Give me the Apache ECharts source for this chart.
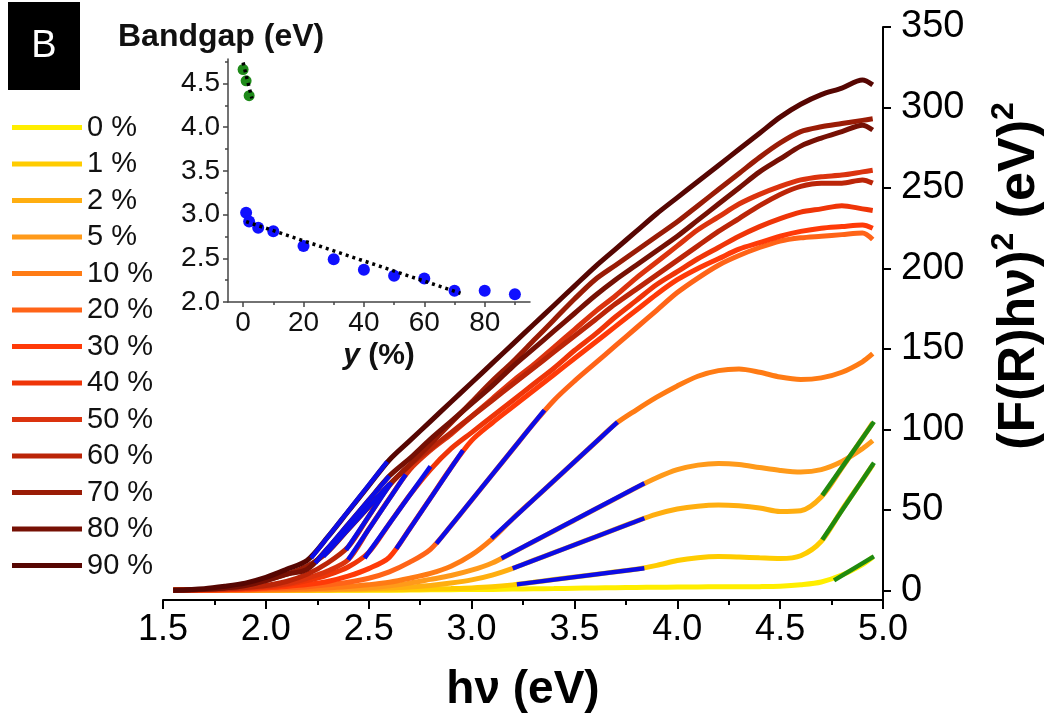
<!DOCTYPE html>
<html>
<head>
<meta charset="utf-8">
<script src="https://cdn.jsdelivr.net/npm/echarts@6/dist/echarts.min.js"></script>
<style>
  html, body { margin: 0; padding: 0; background: #fff; }
  #main { width: 1044px; height: 720px; }
</style>
</head>
<body>
<div id="main"></div>
<script>
// photon energy grid (eV)
const hv = [1.55, 1.7, 1.8, 1.9, 2.0, 2.1, 2.2, 2.3, 2.4, 2.5, 2.6, 2.7, 2.8, 2.9, 3.0, 3.1, 3.2, 3.3, 3.4, 3.5,
            3.6, 3.7, 3.8, 3.9, 4.0, 4.1, 4.2, 4.3, 4.4, 4.5, 4.6, 4.7, 4.8, 4.9, 4.95];

const names = ['0 %', '1 %', '2 %', '5 %', '10 %', '20 %', '30 %', '40 %', '50 %', '60 %', '70 %', '80 %', '90 %'];
const colors = ['#ffee00', '#ffcc00', '#ffae10', '#ff9a1a', '#ff7b14', '#ff6418', '#ff3a08',
                '#ef3508', '#db330e', '#bb2508', '#9a1c06', '#761004', '#560602'];

// (F(R)hv)^2
const y0  = [0,0,0,0,0,0,0,0,0,0,0,0.2,0.3,0.4,0.5,0.6,0.8,1,1.1,1.3,1.5,1.6,1.8,1.9,2,2.1,2.2,2.2,2.3,2.6,3.5,5.2,9.5,16,20.5];
const y1  = [0,0,0,0,0,0,0,0.1,0.2,0.3,0.4,0.6,0.8,1.1,1.5,2.2,3.4,5,6.7,8.3,9.9,11.5,13.1,15.5,18.5,20.3,21,20.7,20.2,19.8,21.5,30.5,50,68.5,78];
const y2  = [0,0,0,0,0,0.1,0.2,0.4,0.6,0.9,1.4,2,3,4.5,6.5,9.5,13.7,18.6,23.4,28.3,33.1,38,42.9,47.3,50.5,52.3,53,52.5,51.2,49,49.5,58,76,94.5,104];
const y5  = [0,0,0,0,0.1,0.2,0.4,0.6,1,1.6,2.8,4.5,6.8,9.2,12.5,17,23.5,30.2,36.9,43.6,50.4,57,63.8,70,75,77.8,78.8,78.2,76.3,74.5,73.5,75,80,88,93];
const y10 = [0,0,0,0.1,0.3,0.5,0.9,1.5,2.4,3.5,5,7.5,10.5,15,22,32,44.5,56.3,68,79.8,91.6,103.4,112,120,127,133,136.5,137.5,135.5,132.5,131,132,135.5,142,147];
const y20 = [0,0.1,0.2,0.4,0.8,1.4,2.3,3.5,5,7.5,11.5,17.5,25.5,40.2,56,71.8,87.6,103.4,118,130,141,152,163,174,185,194,202,208,213,217,219,220,221,222,218];
const y30 = [0,0.2,0.4,0.8,1.5,2.4,3.6,5.5,8.8,13.5,20.5,38.4,57.3,76.2,93,104,114,124,134,144,154,164,174,184,193,200,206,212,216,220,223,225,226,227,225];
const y40 = [0,0.3,0.6,1.1,2,3.5,6,9.5,14.5,23.6,41.4,59.2,75,88,98,108,118,128,138,149,159,170,180,190,198,206,213,220,226,231,235,237,239,237,236];
const y50 = [0,0.4,0.8,1.4,2.5,4,7.5,12,19,38,57,75,87,97,108,119,130,140,151,162,173,183,194,204,214,224,232,240,246,251,255,257,258,260,261];
const y60 = [0,0.5,1,1.8,3,5.5,10,17,27,46,65,78,88,98,108,118,128,138,148,158,168,178,187,196,205,214,223,231,239,246,251,253,253,255,253];
const y70 = [0,0.6,1.5,3,6,10,15,23.8,37.8,51.8,65.8,78,91,104,117,130,142,155,168,181,193,202,211,220,229,239,249,259,269,278,285,288,290,292,293];
const y80 = [0,0.6,1.5,3,6,10,13,26,41,56,71,82,94,105,116,127,139,150,161,172,183,193,202,211,220,230,240,250,260,268,276,281,285,289,286];
const y90 = [0,1,2.5,4.5,8,13,18.5,33,49,65,81,93,105,117,129,141,153,165,177,189,201,212,223,234,244,254,264,274,284,294,302,308,312,317,314];
const curves = [y0, y1, y2, y5, y10, y20, y30, y40, y50, y60, y70, y80, y90];

// linear fits [x1, y1, x2, y2]
const blueFits = [null, [3.22,3.7,3.84,13.7], [3.20,13.7,3.84,44.8], [3.146,19.9,3.84,66.5], [3.097,32.3,3.709,104.5],
  [2.829,29,3.354,112], [2.634,25.9,2.958,87], [2.48,20,2.80,77], [2.40,19,2.68,72], [2.39,25,2.61,67],
  [2.28,21,2.60,66], [2.24,17,2.60,71], [2.22,20,2.59,80]];
const greenFits = [[4.762,6.2,4.956,21.1], [4.705,31.5,4.956,79.2], [4.705,59,4.956,104.7]];

// inset: bandgap vs y
const blueY = [1, 2, 5, 10, 20, 30, 40, 50, 60, 70, 80, 90];
const blueGap = [3.02, 2.92, 2.85, 2.81, 2.64, 2.49, 2.37, 2.30, 2.27, 2.13, 2.13, 2.09];
const greenY = [0, 1, 2];
const greenGap = [4.66, 4.53, 4.36];
const greenTrend = [0, 4.74, 2.9, 4.33];
const blueTrend = [1, 2.92, 72, 2.10];

const mainYTicks = [0, 50, 100, 150, 200, 250, 300, 350];
const insetXTicks = [0, 20, 40, 60, 80];
const insetXMinor = [10, 30, 50, 70, 90];
const insetYTicks = [2.0, 2.5, 3.0, 3.5, 4.0, 4.5];
const insetYMinor = [2.25, 2.75, 3.25, 3.75, 4.25, 4.75];

const FONT = 'Liberation Sans, Arial, sans-serif';
const chart = echarts.init(document.getElementById('main'));

let series = [];
curves.forEach((ys, i) => {
  series.push({
    name: names[i],
    type: 'line',
    xAxisIndex: 0, yAxisIndex: 0,
    data: hv.map((x, k) => [x, ys[k]]),
    symbol: 'none',
    smooth: 0.3,
    color: colors[i],
    lineStyle: { width: 5, color: colors[i] },
    z: 2
  });
});
blueFits.forEach((f, i) => {
  if (!f) return;
  series.push({
    name: 'fit' + i, type: 'line', xAxisIndex: 0, yAxisIndex: 0,
    data: [[f[0], f[1]], [f[2], f[3]]], symbol: 'none',
    lineStyle: { width: 4.5, color: '#0c0ce6' }, z: 3
  });
});
greenFits.forEach((f, i) => {
  series.push({
    name: 'gfit' + i, type: 'line', xAxisIndex: 0, yAxisIndex: 0,
    data: [[f[0], f[1]], [f[2], f[3]]], symbol: 'none',
    lineStyle: { width: 4.5, color: '#1f8a0f' }, z: 3
  });
});
series.push({
  name: 'gaps', type: 'scatter', xAxisIndex: 1, yAxisIndex: 1,
  data: blueY.map((x, i) => [x, blueGap[i]]), symbolSize: 12,
  itemStyle: { color: '#1010ff', opacity: 1 }, z: 4
});
series.push({
  name: 'gaps2', type: 'scatter', xAxisIndex: 1, yAxisIndex: 1,
  data: greenY.map((x, i) => [x, greenGap[i]]), symbolSize: 11,
  itemStyle: { color: '#1f8a1a', opacity: 1 }, z: 4
});
[greenTrend, blueTrend].forEach((t, i) => {
  series.push({
    name: 'trend' + i, type: 'line', xAxisIndex: 1, yAxisIndex: 1,
    data: [[t[0], t[1]], [t[2], t[3]]], symbol: 'none',
    lineStyle: { width: 3.5, color: '#000', type: [3, 4] }, z: 5
  });
});

const options = {
  animation: false,
  backgroundColor: '#fff',
  textStyle: { fontFamily: FONT },
  legend: {
    data: names,
    orient: 'vertical',
    left: 12, top: 113,
    padding: 0,
    itemWidth: 70, itemHeight: 5,
    itemGap: 7.5,
    icon: 'rect',
    textStyle: { fontSize: 29, lineHeight: 29, color: '#111', fontFamily: FONT }
  },
  grid: [
    { left: 163, right: 161, top: 27, bottom: 120 },
    { left: 228, top: 59, width: 302, height: 243 }
  ],
  xAxis: [
    {
      gridIndex: 0, type: 'value', min: 1.5, max: 5.0, interval: 0.5,
      axisLine: { show: true, onZero: false, lineStyle: { color: '#000', width: 2 } },
      axisTick: { show: true, length: 9, lineStyle: { color: '#000', width: 2 } },
      minorTick: { show: true, splitNumber: 2, length: 5, lineStyle: { color: '#000', width: 2 } },
      axisLabel: { fontSize: 36, color: '#000', margin: 12, fontFamily: FONT, formatter: v => v.toFixed(1) },
      splitLine: { show: false }
    },
    {
      gridIndex: 1, type: 'value', position: 'bottom', min: -5, max: 95,
      axisLine: { show: true, onZero: false, lineStyle: { color: '#444', width: 1.5 } },
      axisTick: { show: true, customValues: insetXTicks, length: 5, lineStyle: { color: '#444', width: 1.5 } },
      axisLabel: { customValues: insetXTicks, fontSize: 28, color: '#111', margin: 7, fontFamily: FONT },
      splitLine: { show: false }
    },
    {
      gridIndex: 1, type: 'value', position: 'bottom', min: -5, max: 95,
      axisLine: { show: false, onZero: false },
      axisTick: { show: true, customValues: insetXMinor, length: 3, lineStyle: { color: '#444', width: 1.5 } },
      axisLabel: { show: false },
      splitLine: { show: false }
    }
  ],
  yAxis: [
    {
      gridIndex: 0, type: 'value', position: 'right', min: -6, max: 350,
      axisLine: { show: true, onZero: false, lineStyle: { color: '#000', width: 2 } },
      axisTick: { show: true, customValues: mainYTicks, length: 8, lineStyle: { color: '#000', width: 2 } },
      axisLabel: { customValues: mainYTicks, fontSize: 38, color: '#000', margin: 18, fontFamily: FONT },
      splitLine: { show: false }
    },
    {
      gridIndex: 1, type: 'value', position: 'left', min: 2.0, max: 4.78,
      axisLine: { show: true, onZero: false, lineStyle: { color: '#444', width: 1.5 } },
      axisTick: { show: true, customValues: insetYTicks, length: 5, lineStyle: { color: '#444', width: 1.5 } },
      axisLabel: { customValues: insetYTicks, fontSize: 28, color: '#111', margin: 8, fontFamily: FONT, formatter: v => v.toFixed(1) },
      splitLine: { show: false }
    },
    {
      gridIndex: 1, type: 'value', position: 'left', min: 2.0, max: 4.78,
      axisLine: { show: false, onZero: false },
      axisTick: { show: true, customValues: insetYMinor, length: 3, lineStyle: { color: '#444', width: 1.5 } },
      axisLabel: { show: false },
      splitLine: { show: false }
    }
  ],
  graphic: [
    { type: 'rect', left: 8, top: 2, shape: { width: 72, height: 88 }, style: { fill: '#000' } },
    { type: 'text', x: 44, y: 47, style: { text: 'B', fill: '#fff', font: '38px ' + FONT, textAlign: 'center', textVerticalAlign: 'middle' } },
    { type: 'text', x: 118, y: 37, style: { text: 'Bandgap (eV)', fill: '#111', font: 'bold 32px ' + FONT, textAlign: 'left', textVerticalAlign: 'middle' } },
    {
      type: 'text', x: 379, y: 356,
      style: {
        text: '{i|y}{b| (%)}', textAlign: 'center', textVerticalAlign: 'middle',
        rich: {
          i: { font: 'italic bold 30px ' + FONT, fill: '#111' },
          b: { font: 'bold 30px ' + FONT, fill: '#111' }
        }
      }
    },
    { type: 'text', x: 523, y: 690, style: { text: 'hν (eV)', fill: '#000', font: 'bold 46px ' + FONT, textAlign: 'center', textVerticalAlign: 'middle' } },
    {
      type: 'text', x: 1020, y: 276, rotation: Math.PI / 2,
      style: {
        text: '{m|(F(R)hν)}{s|2}{m| (eV)}{s|2}', textAlign: 'center', textVerticalAlign: 'middle',
        rich: {
          m: { font: 'bold 52px ' + FONT, fill: '#000', lineHeight: 64 },
          s: { font: 'bold 32px ' + FONT, fill: '#000', verticalAlign: 'top' }
        }
      }
    }
  ],
  series: series
};

chart.setOption(options);
</script>
</body>
</html>
